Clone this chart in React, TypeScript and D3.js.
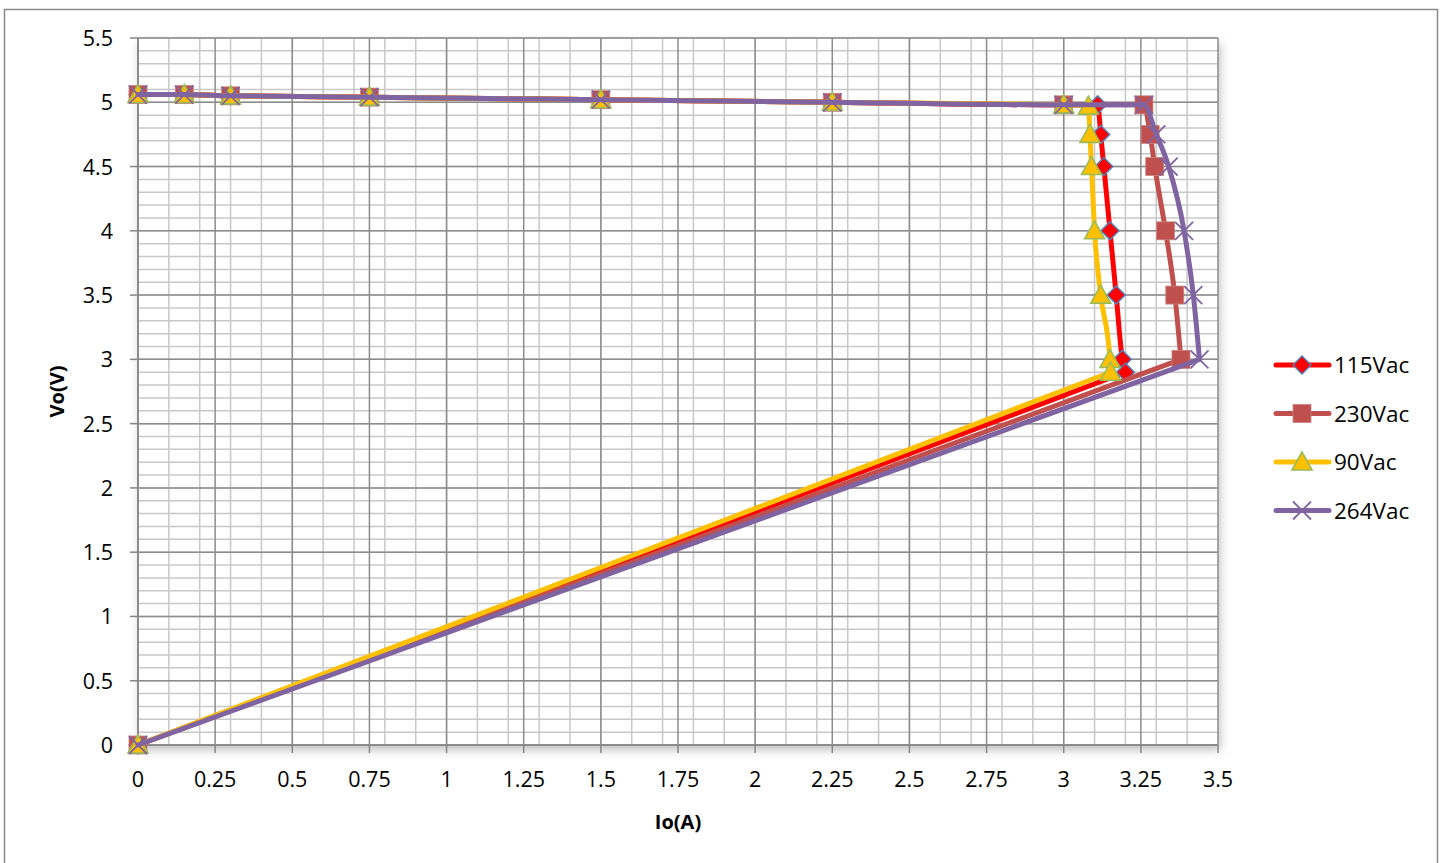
import React from 'react';
import * as d3 from 'd3';

// measured output curves, Io (A) vs Vo (V)
const x115 = [0, 0.15, 0.3, 0.75, 1.5, 2.25, 3.0, 3.11, 3.12, 3.13, 3.15, 3.17, 3.19, 3.2, 0];
const y115 = [5.06, 5.06, 5.05, 5.04, 5.02, 5.0, 4.98, 4.98, 4.75, 4.5, 4.0, 3.5, 3.0, 2.9, 0];

const x230 = [0, 0.15, 0.3, 0.75, 1.5, 2.25, 3.0, 3.26, 3.28, 3.295, 3.33, 3.36, 3.38, 0];
const y230 = [5.06, 5.06, 5.05, 5.04, 5.02, 5.0, 4.98, 4.98, 4.75, 4.5, 4.0, 3.5, 3.0, 0];

const x90 = [0, 0.15, 0.3, 0.75, 1.5, 2.25, 3.0, 3.08, 3.085, 3.09, 3.1, 3.12, 3.15, 3.152, 0];
const y90 = [5.06, 5.06, 5.05, 5.04, 5.02, 5.0, 4.98, 4.97, 4.75, 4.5, 4.0, 3.5, 3.0, 2.9, 0];

const x264 = [0, 0.15, 0.3, 0.75, 1.5, 2.25, 3.0, 3.26, 3.3, 3.34, 3.39, 3.42, 3.44, 0];
const y264 = [5.06, 5.06, 5.05, 5.04, 5.02, 5.0, 4.98, 4.98, 4.75, 4.5, 4.0, 3.5, 3.0, 0];

const seriesNames = ['115Vac', '230Vac', '90Vac', '264Vac'];

const xTicks = [0, 0.25, 0.5, 0.75, 1, 1.25, 1.5, 1.75, 2, 2.25, 2.5, 2.75, 3, 3.25, 3.5];
const yTicks = [0, 0.5, 1, 1.5, 2, 2.5, 3, 3.5, 4, 4.5, 5, 5.5];

const W = 1445;
const H = 863;
const margin = { top: 38, right: 227, bottom: 118, left: 138 };
const font = '"Open Sans", "Liberation Sans", sans-serif';

const Marker = ({ kind, x, y }: { kind: string; x: number; y: number }) => {
  if (kind === 'diamond') {
    return (
      <path d={`M${x},${y - 9}L${x + 9},${y}L${x},${y + 9}L${x - 9},${y}Z`}
        fill="#FF0000" stroke="#4F81BD" strokeWidth={1.4} />
    );
  }
  if (kind === 'square') {
    return <rect x={x - 9} y={y - 9} width={18} height={18} fill="#C0504D" stroke="#C98583" strokeWidth={0.8} />;
  }
  if (kind === 'triangle') {
    return (
      <path d={`M${x},${y - 10}L${x + 10},${y + 8}L${x - 10},${y + 8}Z`}
        fill="#FFC000" stroke="#9BBB59" strokeWidth={1.6} />
    );
  }
  return (
    <path d={`M${x - 9},${y - 9}L${x + 9},${y + 9}M${x - 9},${y + 9}L${x + 9},${y - 9}`}
      stroke="#8064A2" strokeWidth={1.8} fill="none" />
  );
};

export default function App() {
  const x = d3.scaleLinear().domain([0, 3.5]).range([margin.left, W - margin.right]);
  const y = d3.scaleLinear().domain([0, 5.5]).range([H - margin.bottom, margin.top]);

  const series = [
    { name: seriesNames[0], xs: x115, ys: y115, color: '#FF0000', kind: 'diamond' },
    { name: seriesNames[1], xs: x230, ys: y230, color: '#C0504D', kind: 'square' },
    { name: seriesNames[2], xs: x90, ys: y90, color: '#FFC000', kind: 'triangle' },
    { name: seriesNames[3], xs: x264, ys: y264, color: '#8064A2', kind: 'cross' },
  ];

  // smoothed knee (no overshoot), straight fold-back to the origin
  const smooth = d3.line<[number, number]>()
    .x(d => x(d[0]))
    .y(d => y(d[1]))
    .curve(d3.curveMonotoneX);

  const minorX = d3.range(0, 35).map(i => i / 10);
  const minorY = d3.range(0, 56).map(i => i / 10);
  const [x0, x1] = x.range();
  const [y0, y1] = y.range();

  return (
    <svg width={W} height={H} style={{ position: 'absolute', left: 0, top: 0, background: '#fff' }}>
      <defs>
        <filter id="shadow" x="-5%" y="-5%" width="110%" height="115%">
          <feDropShadow dx="2" dy="5" stdDeviation="5" floodColor="#000" floodOpacity="0.25" />
        </filter>
      </defs>
      <rect x={4.5} y={9.5} width={1433} height={870} fill="#fff" stroke="#898989" strokeWidth={1.5} />

      {/* plot area */}
      <rect x={x0} y={y1} width={x1 - x0} height={y0 - y1} fill="#fff" filter="url(#shadow)" />

      {/* minor grid */}
      {minorX.map((v, i) => (
        <line key={`mx${i}`} x1={x(v)} x2={x(v)} y1={y1} y2={y0} stroke="#C8C8C8" strokeWidth={1.5} />
      ))}
      {minorY.map((v, i) => (
        <line key={`my${i}`} x1={x0} x2={x1} y1={y(v)} y2={y(v)} stroke="#C8C8C8" strokeWidth={1.5} />
      ))}
      {/* major grid */}
      {xTicks.map((v, i) => (
        <line key={`gx${i}`} x1={x(v)} x2={x(v)} y1={y1} y2={y0} stroke="#8C8C8C" strokeWidth={1.5} />
      ))}
      {yTicks.map((v, i) => (
        <line key={`gy${i}`} x1={x0} x2={x1} y1={y(v)} y2={y(v)} stroke="#8C8C8C" strokeWidth={1.5} />
      ))}

      {/* axes */}
      <line x1={x0} x2={x0} y1={y1} y2={y0} stroke="#868686" strokeWidth={1.5} />
      <line x1={x0} x2={x1} y1={y0} y2={y0} stroke="#868686" strokeWidth={1.5} />
      {xTicks.map((v, i) => (
        <g key={`xt${i}`}>
          <line x1={x(v)} x2={x(v)} y1={y0} y2={y0 + 8} stroke="#868686" strokeWidth={1.5} />
          <text x={x(v)} y={y0 + 42} textAnchor="middle" fontFamily={font} fontSize={21.5} fill="#000">
            {v}
          </text>
        </g>
      ))}
      {yTicks.map((v, i) => (
        <g key={`yt${i}`}>
          <line x1={x0 - 8} x2={x0} y1={y(v)} y2={y(v)} stroke="#868686" strokeWidth={1.5} />
          <text x={x0 - 25} y={y(v) + 8} textAnchor="end" fontFamily={font} fontSize={21.5} fill="#000">
            {v}
          </text>
        </g>
      ))}

      <text x={(x0 + x1) / 2} y={829} textAnchor="middle" fontFamily={font} fontSize={20} fontWeight="bold">
        Io(A)
      </text>
      <text transform={`translate(64,${(y0 + y1) / 2}) rotate(-90)`} textAnchor="middle"
        fontFamily={font} fontSize={20} fontWeight="bold">
        Vo(V)
      </text>

      {/* series */}
      {series.map(s => {
        const pts = s.xs.map((v, i) => [v, s.ys[i]] as [number, number]);
        const knee = pts.slice(0, -1);
        const end = pts[pts.length - 1];
        const d = (smooth(knee) || '') + `L${x(end[0])},${y(end[1])}`;
        return (
          <g key={s.name}>
            <path d={d} fill="none" stroke={s.color} strokeWidth={5} strokeLinejoin="round" strokeLinecap="round" />
            {pts.map((p, i) => (
              <Marker key={i} kind={s.kind} x={x(p[0])} y={y(p[1])} />
            ))}
          </g>
        );
      })}

      {/* legend */}
      {series.map((s, i) => {
        const ly = 365 + i * 48.5;
        return (
          <g key={`lg${i}`}>
            <line x1={1276} x2={1329} y1={ly} y2={ly} stroke={s.color} strokeWidth={5} strokeLinecap="round" />
            <Marker kind={s.kind} x={1302} y={ly} />
            <text x={1334} y={ly + 8} fontFamily={font} fontSize={22.5} fill="#000">{s.name}</text>
          </g>
        );
      })}
    </svg>
  );
}
